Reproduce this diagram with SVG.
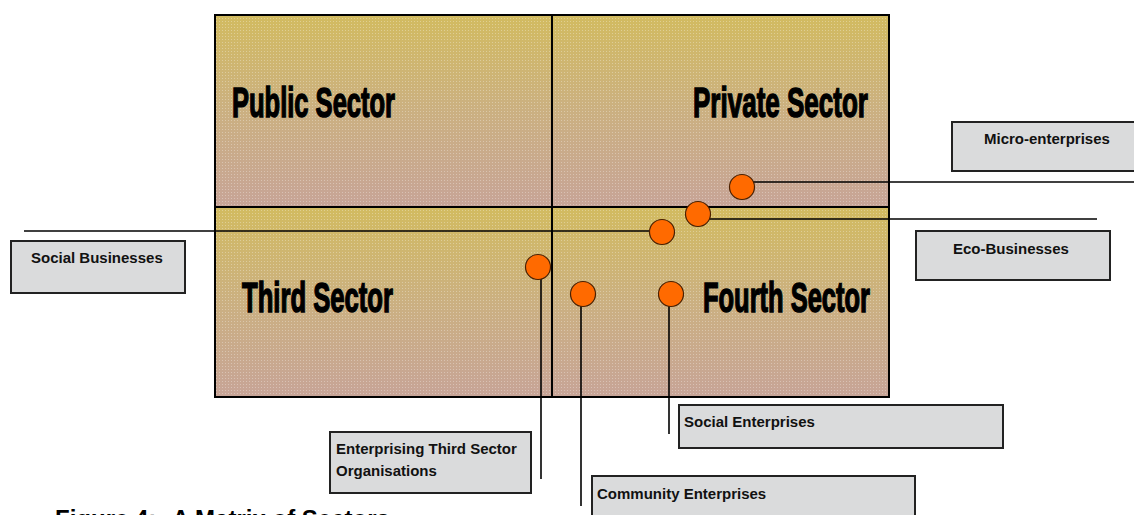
<svg xmlns="http://www.w3.org/2000/svg" width="1134" height="515" viewBox="0 0 1134 515">
<style>
.big{font-family:"Liberation Sans",Arial,sans-serif;font-weight:bold;font-size:42px;fill:#000;stroke:#000;stroke-width:1.5}
.lbl{font-family:"Liberation Sans",Arial,sans-serif;font-weight:bold;font-size:15px;fill:#111}
.box{fill:#dadbdc;stroke:#222;stroke-width:2}
.dot{fill:#ff6a00;stroke:#4a2000;stroke-width:1.2}
.con{stroke:#000;stroke-width:1.6;fill:none}
.div{stroke:#000;stroke-width:2;fill:none}
.cap{font-family:"Liberation Sans",Arial,sans-serif;font-weight:bold;font-size:24px;fill:#000}
</style>
<defs>
<linearGradient id="q" x1="0" y1="0" x2="0" y2="1">
<stop offset="0" stop-color="#d2bb60"/>
<stop offset="0.5" stop-color="#cbb081"/>
<stop offset="1" stop-color="#c7a497"/>
</linearGradient>
<pattern id="tex" width="3" height="3" patternUnits="userSpaceOnUse">
<rect x="0" y="0" width="1" height="1" fill="#ffffff" fill-opacity="0.3"/>
</pattern>
</defs>
<g id="matrix">
<rect x="215" y="15" width="674" height="192" fill="url(#q)"/>
<rect x="215" y="207" width="674" height="190" fill="url(#q)"/>
<rect x="215" y="15" width="674" height="382" fill="url(#tex)"/>
<rect x="215" y="15" width="674" height="382" class="div"/>
<line x1="552" y1="15" x2="552" y2="397" class="div"/>
<line x1="215" y1="207" x2="889" y2="207" class="div"/>
</g>
<g id="public-sector"><text class="big" x="232" y="117" textLength="163" lengthAdjust="spacingAndGlyphs">Public Sector</text></g>
<g id="private-sector"><text class="big" x="693" y="117" textLength="175" lengthAdjust="spacingAndGlyphs">Private Sector</text></g>
<g id="third-sector"><text class="big" x="242" y="312" textLength="151" lengthAdjust="spacingAndGlyphs">Third Sector</text></g>
<g id="fourth-sector"><text class="big" x="703" y="312" textLength="167" lengthAdjust="spacingAndGlyphs">Fourth Sector</text></g>
<g id="connectors">
<line x1="742" y1="182" x2="1134" y2="182" class="con"/>
<line x1="698" y1="219" x2="1097" y2="219" class="con"/>
<line x1="24" y1="231" x2="662" y2="231" class="con"/>
<line x1="541" y1="267" x2="541" y2="479" class="con"/>
<line x1="581" y1="294" x2="581" y2="506" class="con"/>
<line x1="669" y1="294" x2="669" y2="434" class="con"/>
</g>
<g id="dot-micro"><circle cx="742" cy="187" r="12.5" class="dot"/></g>
<g id="dot-eco"><circle cx="698" cy="214" r="12.5" class="dot"/></g>
<g id="dot-social-businesses"><circle cx="662" cy="232" r="12.5" class="dot"/></g>
<g id="dot-enterprising"><circle cx="538" cy="267" r="12.5" class="dot"/></g>
<g id="dot-community"><circle cx="583" cy="294" r="12.5" class="dot"/></g>
<g id="dot-social-enterprises"><circle cx="671" cy="294" r="12.5" class="dot"/></g>
<g id="micro-enterprises"><rect x="952" y="122" width="190" height="49" class="box"/><text class="lbl" x="984" y="144">Micro-enterprises</text></g>
<g id="eco-businesses"><rect x="916" y="231" width="194" height="49" class="box"/><text class="lbl" x="953" y="254">Eco-Businesses</text></g>
<g id="social-businesses"><rect x="11" y="241" width="174" height="52" class="box"/><text class="lbl" x="31" y="263">Social Businesses</text></g>
<g id="social-enterprises"><rect x="679" y="405" width="324" height="43" class="box"/><text class="lbl" x="684" y="427">Social Enterprises</text></g>
<g id="enterprising-third-sector"><rect x="330" y="432" width="201" height="61" class="box"/><text class="lbl" x="336" y="454">Enterprising Third Sector</text><text class="lbl" x="336" y="476">Organisations</text></g>
<g id="community-enterprises"><rect x="592" y="476" width="323" height="50" class="box"/><text class="lbl" x="597" y="499">Community Enterprises</text></g>
<g id="caption"><text class="cap" x="55" y="527">Figure 4:</text><text class="cap" x="172" y="527">A Matrix of Sectors</text></g>
</svg>
